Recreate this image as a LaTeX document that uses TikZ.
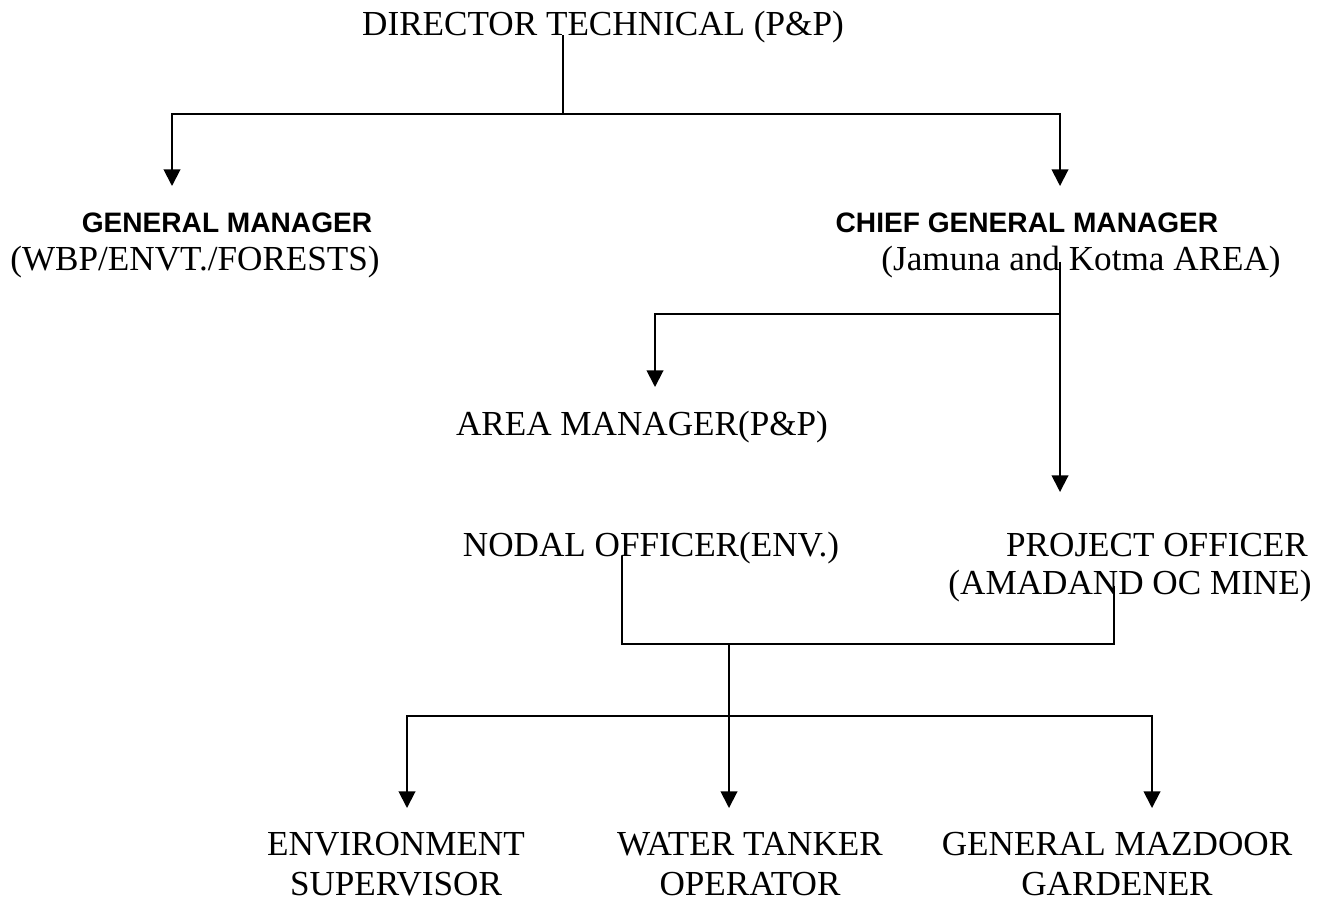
\documentclass[tikz,border=0pt]{standalone}
\usepackage{fontspec}
\setmainfont{Liberation Serif}
\setsansfont{Liberation Sans}
\usetikzlibrary{arrows.meta, positioning}

\begin{document}
\begin{tikzpicture}[x=0.02cm, y=-0.02cm, line width=1.1pt,
    every node/.style={align=center, inner sep=0pt, anchor=base,
        font=\fontsize{20}{22.7}\selectfont},
    head/.style={font=\fontsize{16}{19}\selectfont\sffamily\bfseries},
    arr/.style={-{Triangle[length=9.5pt, width=9.5pt]}}]
    \useasboundingbox (0,0) rectangle (1317,923);

    \node (dirtech) at (603,35) {DIRECTOR TECHNICAL (P\&P)};
    \node[head] (gm) at (227,232) {GENERAL MANAGER};
    \node (gmsub) at (195,270) {(WBP/ENVT./FORESTS)};
    \node[head] (cgm) at (1027,232) {CHIEF GENERAL MANAGER};
    \node (cgmsub) at (1081,270) {(Jamuna and Kotma AREA)};
    \node (areamgr) at (642,435) {AREA MANAGER(P\&P)};
    \node (nodal) at (651,556) {NODAL OFFICER(ENV.)};
    \node (projoff) at (1157,556) {PROJECT OFFICER};
    \node (projsub) at (1130,594) {(AMADAND OC MINE)};
    % two-line labels sit on their last line
    \node (envsup) at (396,895) {ENVIRONMENT\\ SUPERVISOR};
    \node (tanker) at (750,895) {WATER TANKER\\ OPERATOR};
    \node (mazdoor) at (1117,895) {GENERAL MAZDOOR\\ GARDENER};

    \coordinate (topbus) at (563,114);
    \coordinate (gmin) at (172,186);
    \coordinate (cgmin) at (1060,186);
    \draw (topbus |- dirtech.base) -- (topbus);
    \draw[arr] (topbus) -| (gmin);
    \draw[arr] (topbus) -| (cgmin);

    \coordinate (cgmbus) at (1060,314);
    \coordinate (amin) at (655,387);
    \coordinate (poin) at (1060,492);
    \draw[arr] (cgmbus |- cgmsub.center) -- (poin);
    \draw[arr] (cgmbus) -| (amin);

    \coordinate (midbus) at (729,644);
    \coordinate (lowbus) at (729,716);
    \coordinate (envin) at (407,808);
    \coordinate (tankin) at (729,808);
    \coordinate (mazin) at (1152,808);
    \draw ([xshift=-0.58cm]nodal.base) |- (midbus)
    -| ([xshift=-0.32cm]projsub.center);
    \draw (midbus) -- (lowbus);
    \draw[arr] (lowbus) -| (envin);
    \draw[arr] (lowbus) -- (tankin);
    \draw[arr] (lowbus) -| (mazin);
\end{tikzpicture}
\end{document}
